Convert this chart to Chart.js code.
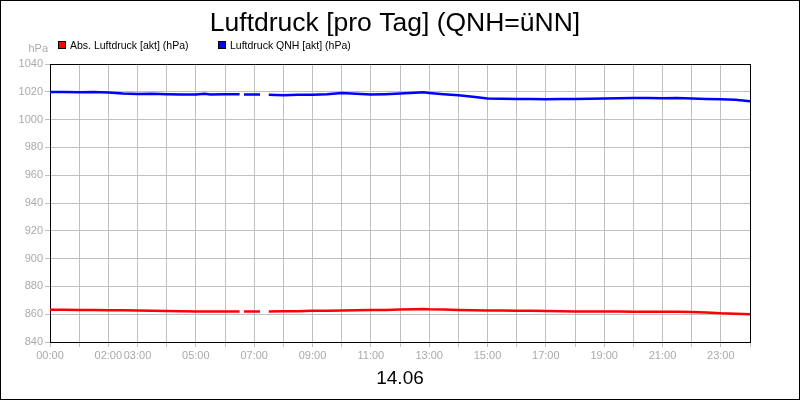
<!DOCTYPE html>
<html>
<head>
<meta charset="utf-8">
<script src="https://cdn.jsdelivr.net/npm/chart.js@4"></script>
<style>
html,body{margin:0;padding:0;background:#fff;}
#wrap{width:800px;height:400px;position:relative;}
</style>
</head>
<body>
<div id="wrap"><canvas id="c" width="800" height="400"></canvas></div>
<script>
const chartTitle = "Luftdruck [pro Tag] (QNH=üNN]";
const dateLabel = "14.06";
const unitLabel = "hPa";
const seriesNames = ["Abs. Luftdruck [akt] (hPa)", "Luftdruck QNH [akt] (hPa)"];
const seriesColors = ["#ff0000", "#0000ff"];

const hours = [0,0.5,1,1.5,2,2.5,3,3.5,4,4.5,5,5.3,5.5,6,6.5,6.58,6.65,7.2,7.35,7.5,8,8.5,9,9.5,10,10.5,11,11.5,12,12.5,12.8,13,13.5,14,14.5,15,15.5,16,16.5,17,17.5,18,18.5,19,19.5,20,20.5,21,21.5,22,22.5,23,23.5,24];

const absValues = [863.2,863.2,863.1,863.1,862.9,862.8,862.6,862.5,862.3,862.1,862.0,862.0,862.0,862.0,862.0,null,861.9,861.9,null,862.0,862.1,862.2,862.4,862.5,862.6,862.8,863.0,863.1,863.3,863.6,863.7,863.5,863.3,863.0,862.8,862.7,862.6,862.4,862.4,862.3,862.2,862.0,862.0,861.9,861.9,861.8,861.8,861.8,861.7,861.5,861.2,860.6,860.3,860.0];

const qnhValues = [1019.8,1019.8,1019.6,1019.8,1019.5,1018.8,1018.5,1018.6,1018.3,1018.0,1018.0,1018.6,1018.1,1018.2,1018.3,null,1018.0,1018.0,null,1017.8,1017.6,1017.8,1017.9,1018.2,1019.2,1018.6,1018.1,1018.3,1018.7,1019.3,1019.6,1019.2,1018.3,1017.5,1016.5,1015.2,1015.0,1014.9,1014.8,1014.7,1014.8,1014.8,1015.0,1015.1,1015.3,1015.6,1015.5,1015.4,1015.5,1015.2,1014.8,1014.6,1014.2,1013.2];

const xTickHours = [0,2,3,5,7,9,11,13,15,17,19,21,23];
const xTickLabels = ["00:00","02:00","03:00","05:00","07:00","09:00","11:00","13:00","15:00","17:00","19:00","21:00","23:00"];
const yMin = 840, yMax = 1040, yStep = 20;

const FONT = "'Liberation Sans', Arial, sans-serif";

function pts(vals){ return hours.map((h,i)=>({x:h,y:vals[i]})); }

const decor = {
  id:'decor',
  beforeDatasetsDraw(chart){
    const {ctx, chartArea:a} = chart;
    ctx.save();
    ctx.strokeStyle = '#000';
    ctx.lineWidth = 1;
    ctx.strokeRect(Math.round(a.left)+0.5, Math.round(a.top)+0.5, Math.round(a.right-a.left), Math.round(a.bottom-a.top));
    ctx.restore();
  },
  afterDraw(chart){
    const ctx = chart.ctx;
    ctx.save();
    ctx.strokeStyle = '#000';
    ctx.lineWidth = 1;
    ctx.strokeRect(0.5,0.5,799,399);
    ctx.fillStyle = '#000';
    ctx.textBaseline = 'alphabetic';
    ctx.textAlign = 'center';
    ctx.font = '26.5px ' + FONT;
    ctx.fillText(chartTitle, 395, 31);
    ctx.font = '19px ' + FONT;
    ctx.fillText(dateLabel, 400, 384);
    // legend
    ctx.textAlign = 'left';
    ctx.font = '10.5px ' + FONT;
    const lx = [58, 218];
    seriesNames.forEach((n,i)=>{
      ctx.fillStyle = seriesColors[i];
      ctx.fillRect(lx[i], 41, 8, 8);
      ctx.strokeStyle = '#000';
      ctx.strokeRect(lx[i]+0.5, 41.5, 7, 7);
      ctx.fillStyle = '#000';
      ctx.fillText(n, lx[i]+12, 49);
    });
    ctx.fillStyle = '#aaaaaa';
    ctx.textAlign = 'right';
    ctx.font = '11px ' + FONT;
    ctx.fillText(unitLabel, 48, 52);
    ctx.restore();
  }
};

new Chart(document.getElementById('c'), {
  type:'line',
  data:{
    datasets:[
      {label:seriesNames[0], data:pts(absValues), borderColor:seriesColors[0], backgroundColor:seriesColors[0], borderWidth:2.5, pointRadius:0, spanGaps:false, tension:0},
      {label:seriesNames[1], data:pts(qnhValues), borderColor:seriesColors[1], backgroundColor:seriesColors[1], borderWidth:2.5, pointRadius:0, spanGaps:false, tension:0}
    ]
  },
  options:{
    responsive:false,
    animation:false,
    devicePixelRatio:1,
    layout:{padding:{left:0,right:50,top:64,bottom:0}},
    plugins:{legend:{display:false}, title:{display:false}, tooltip:{enabled:false}},
    scales:{
      x:{
        type:'linear', min:0, max:24,
        afterFit(s){ s.height = 58; },
        grid:{color:'#c0c0c0', lineWidth:1, tickLength:5, drawOnChartArea:true},
        border:{display:false},
        ticks:{
          stepSize:1, autoSkip:false, maxRotation:0, minRotation:0,
          color:'#aaaaaa', padding:2, font:{family:FONT, size:11},
          callback(v){ const i = xTickHours.indexOf(v); return i>=0 ? xTickLabels[i] : ''; }
        }
      },
      y:{
        min:yMin, max:yMax,
        afterFit(s){ s.width = 50; },
        grid:{color:'#c0c0c0', lineWidth:1, tickLength:5},
        border:{display:false},
        ticks:{stepSize:yStep, color:'#aaaaaa', padding:2, font:{family:FONT, size:11},
          callback(v){ return String(v); }}
      }
    }
  },
  plugins:[decor]
});
</script>
</body>
</html>
